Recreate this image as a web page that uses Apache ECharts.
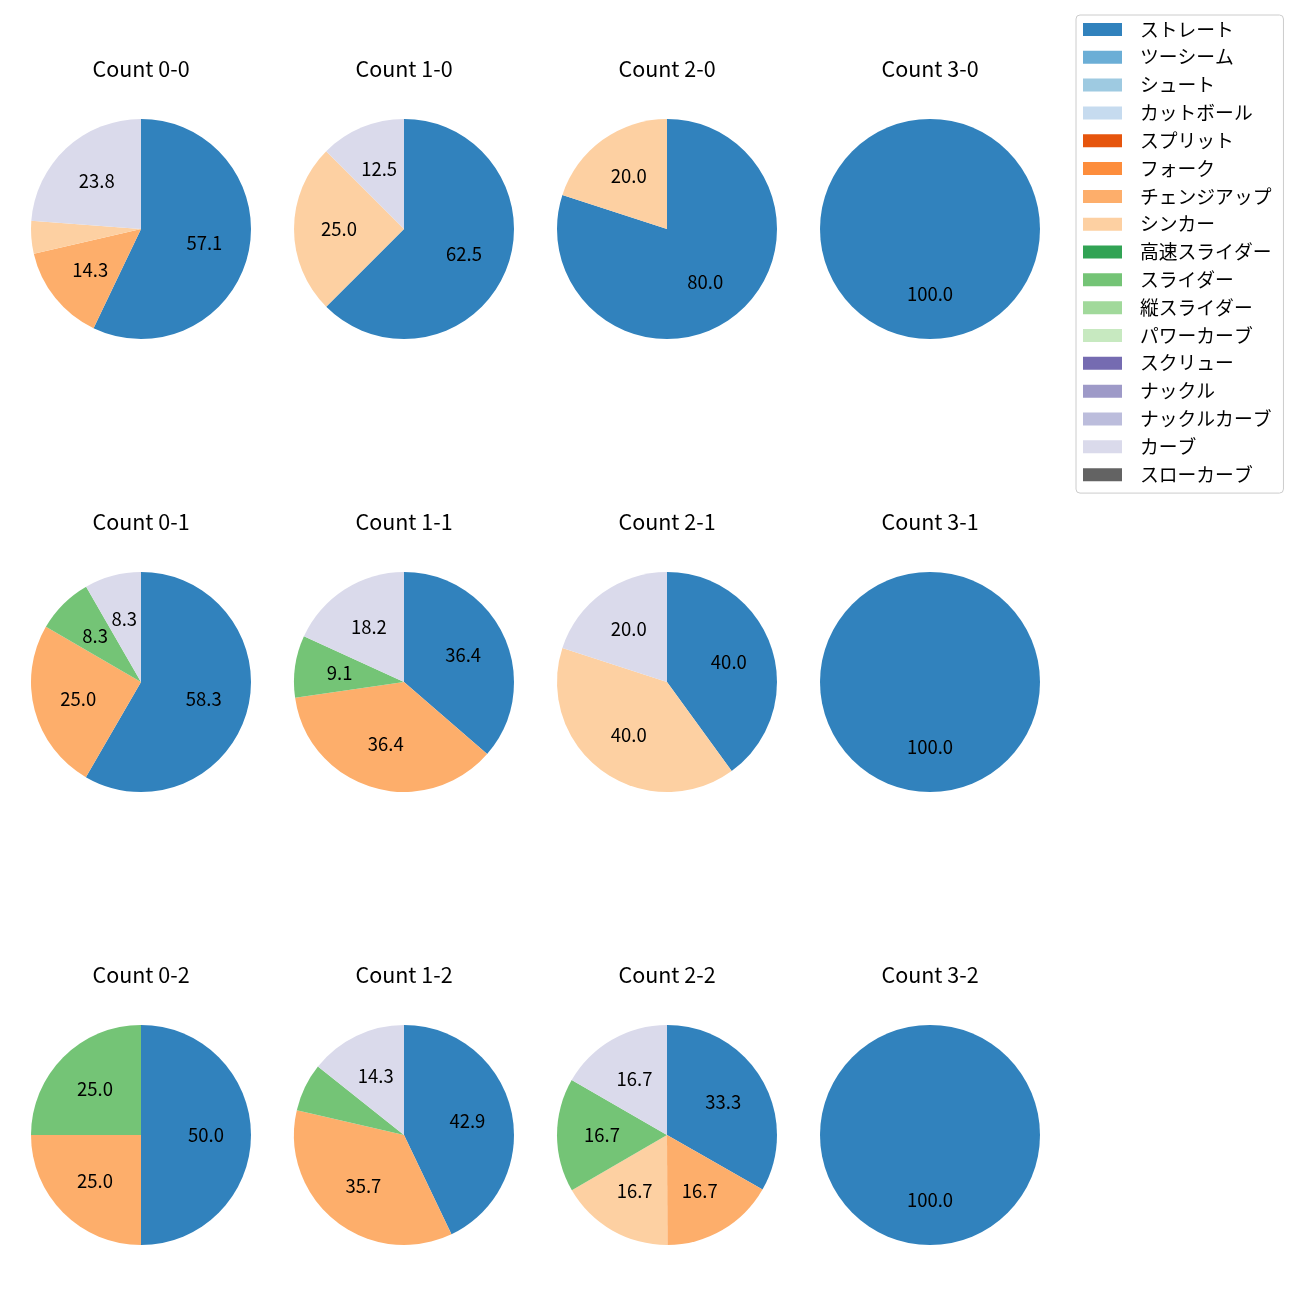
<!DOCTYPE html>
<html>
<head>
<meta charset="utf-8">
<script src="https://cdn.jsdelivr.net/npm/echarts@6/dist/echarts.min.js"></script>
<style>html,body{margin:0;padding:0;background:#fff;}#chart{width:1300px;height:1300px;}</style>
</head>
<body>
<div id="chart"></div>
<script>
// Pitch types (legend order)
const pitchTypes = ['ストレート','ツーシーム','シュート','カットボール','スプリット','フォーク','チェンジアップ','シンカー','高速スライダー','スライダー','縦スライダー','パワーカーブ','スクリュー','ナックル','ナックルカーブ','カーブ','スローカーブ'];
const palette = ['#3182bd','#6baed6','#9ecae1','#c6dbef','#e6550d','#fd8d3c','#fdae6b','#fdd0a2','#31a354','#74c476','#a1d99b','#c7e9c0','#756bb1','#9e9ac8','#bcbddc','#dadaeb','#636363'];

// Counts (balls-strikes) in grid order
const countTitles = ['Count 0-0','Count 1-0','Count 2-0','Count 3-0','Count 0-1','Count 1-1','Count 2-1','Count 3-1','Count 0-2','Count 1-2','Count 2-2','Count 3-2'];

// Percent share per pitch type, same order as pitchTypes
const count00 = [57.1,0,0,0,0,0,14.3,4.8,0,0,0,0,0,0,0,23.8,0];
const count10 = [62.5,0,0,0,0,0,0,25.0,0,0,0,0,0,0,0,12.5,0];
const count20 = [80.0,0,0,0,0,0,0,20.0,0,0,0,0,0,0,0,0,0];
const count30 = [100.0,0,0,0,0,0,0,0,0,0,0,0,0,0,0,0,0];
const count01 = [58.3,0,0,0,0,0,25.0,0,0,8.3,0,0,0,0,0,8.3,0];
const count11 = [36.4,0,0,0,0,0,36.4,0,0,9.1,0,0,0,0,0,18.2,0];
const count21 = [40.0,0,0,0,0,0,0,40.0,0,0,0,0,0,0,0,20.0,0];
const count31 = [100.0,0,0,0,0,0,0,0,0,0,0,0,0,0,0,0,0];
const count02 = [50.0,0,0,0,0,0,25.0,0,0,25.0,0,0,0,0,0,0,0];
const count12 = [42.9,0,0,0,0,0,35.7,0,0,7.1,0,0,0,0,0,14.3,0];
const count22 = [33.3,0,0,0,0,0,16.7,16.7,0,16.7,0,0,0,0,0,16.7,0];
const count32 = [100.0,0,0,0,0,0,0,0,0,0,0,0,0,0,0,0,0];
const allCounts = [count00,count10,count20,count30,count01,count11,count21,count31,count02,count12,count22,count32];

const FONT = 'Noto Sans CJK JP';
const colX = [141, 404, 667, 930];
const rowY = [229, 682, 1135];
const R = 110;

const chart = echarts.init(document.getElementById('chart'), null, {renderer: 'canvas'});

const titles = [];
const pieSeries = [];
const labelSeries = [];
allCounts.forEach((vals, i) => {
  const cx = colX[i % 4], cy = rowY[Math.floor(i / 4)];
  titles.push({
    text: countTitles[i], left: cx, top: cy - 171, textAlign: 'center', padding: 0,
    textStyle: {fontFamily: FONT, fontSize: 21.5, fontWeight: 'normal', color: '#000'}
  });
  const data = pitchTypes.map((n, k) => ({name: n, value: vals[k]}));
  pieSeries.push({
    type: 'pie', center: [cx, cy], radius: [0, R], startAngle: 90, clockwise: true,
    silent: true, animation: false, avoidLabelOverlap: false,
    label: {show: false}, labelLine: {show: false},
    itemStyle: {borderWidth: 0},
    emphasis: {disabled: true},
    data: data
  });
  labelSeries.push({
    type: 'pie', center: [cx, cy], radius: [14, R], startAngle: 90, clockwise: true,
    silent: true, animation: false, avoidLabelOverlap: false,
    itemStyle: {color: 'rgba(0,0,0,0)', borderWidth: 0},
    label: {show: true, position: 'inside', fontFamily: FONT, fontSize: 18.5, color: '#000',
      formatter: p => (p.value >= 8 ? p.value.toFixed(1) : '')},
    labelLine: {show: false},
    emphasis: {disabled: true},
    data: data.map(d => ({name: d.name, value: d.value}))
  });
});

chart.setOption({
  animation: false,
  color: palette,
  title: titles,
  legend: {
    orient: 'vertical', left: 1076, top: 15,
    data: pitchTypes,
    itemWidth: 39, itemHeight: 13, itemGap: 9.05,
    icon: 'rect',
    padding: [5, 12, 9, 7],
    borderColor: '#cccccc', borderWidth: 1, borderRadius: 4,
    textStyle: {fontFamily: FONT, fontSize: 18.8, color: '#000', padding: [0, 0, 0, 13]},
    selectedMode: false
  },
  series: pieSeries.concat(labelSeries)
});
</script>
</body>
</html>
